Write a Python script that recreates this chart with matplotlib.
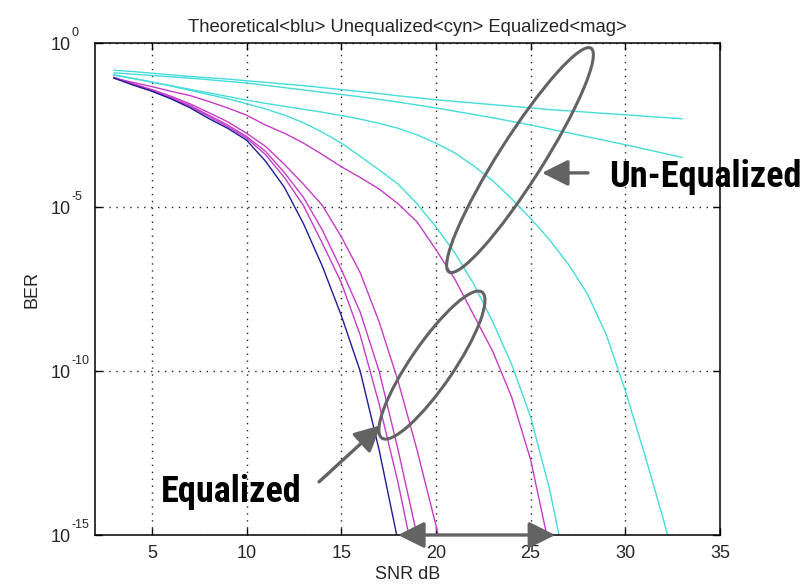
import numpy as np
import matplotlib
matplotlib.use("Agg")
import matplotlib.pyplot as plt
from matplotlib import font_manager
from matplotlib.patches import Ellipse
from matplotlib.ticker import NullLocator, NullFormatter
from matplotlib.transforms import IdentityTransform, blended_transform_factory, offset_copy

plt.rcParams['font.family'] = ['Liberation Sans', 'DejaVu Sans']

snr_db = np.arange(3, 34)

# log10(BER) at each dB step, every curve runs until it drops past 1e-15
theory = [-1.07, -1.28, -1.47, -1.70, -1.97, -2.30, -2.60, -2.96, -3.60, -4.40,
          -5.50, -6.80, -8.30, -10.0, -12.4, -15.2]

eq_1 = [-1.07, -1.20, -1.33, -1.47, -1.60, -1.78, -1.98, -2.20, -2.50, -2.75,
        -3.05, -3.40, -3.77, -4.10, -4.45, -4.90, -5.45, -6.30, -7.20, -8.30,
        -9.40, -10.8, -12.7, -15.4]
eq_2 = [-1.06, -1.27, -1.46, -1.68, -1.93, -2.24, -2.55, -2.90, -3.40, -4.10,
        -4.95, -6.10, -7.30, -8.90, -11.0, -13.4, -16.2]
eq_3 = [-1.05, -1.25, -1.44, -1.66, -1.90, -2.20, -2.50, -2.85, -3.30, -3.95,
        -4.70, -5.70, -6.90, -8.20, -10.0, -12.4, -15.0, -17.8]
eq_4 = [-1.05, -1.24, -1.42, -1.62, -1.85, -2.12, -2.40, -2.75, -3.15, -3.70,
        -4.30, -4.95, -5.90, -7.00, -8.50, -10.3, -12.4, -14.7, -17.3]

uneq_1 = [-0.83, -0.87, -0.92, -0.97, -1.02, -1.06, -1.10, -1.15, -1.20, -1.25,
          -1.30, -1.36, -1.42, -1.48, -1.54, -1.61, -1.67, -1.73, -1.78, -1.83,
          -1.88, -1.93, -1.98, -2.03, -2.07, -2.11, -2.15, -2.19, -2.23, -2.27,
          -2.31]
uneq_2 = [-0.91, -0.95, -0.99, -1.03, -1.07, -1.12, -1.17, -1.22, -1.29, -1.36,
          -1.43, -1.50, -1.57, -1.64, -1.72, -1.80, -1.89, -1.98, -2.08, -2.18,
          -2.28, -2.39, -2.50, -2.62, -2.74, -2.86, -2.98, -3.10, -3.23, -3.36,
          -3.49]
uneq_3 = [-0.97, -1.08, -1.19, -1.30, -1.41, -1.52, -1.63, -1.74, -1.84, -1.93,
          -2.02, -2.11, -2.21, -2.32, -2.45, -2.60, -2.80, -3.05, -3.35, -3.75,
          -4.20, -4.75, -5.35, -6.00, -6.75, -7.65, -8.90, -10.6, -12.5, -14.5,
          -16.7]
uneq_4 = [-0.98, -1.08, -1.19, -1.31, -1.44, -1.57, -1.70, -1.85, -2.01, -2.20,
          -2.43, -2.72, -3.05, -3.45, -3.87, -4.30, -4.90, -5.60, -6.40, -7.35,
          -8.50, -9.80, -11.4, -13.6, -16.4]

x_ticks = [5, 10, 15, 20, 25, 30, 35]
y_exponents = [0, -5, -10, -15]

CYAN = '#45dcdc'
MAGENTA = '#c63cc8'
BLUE = '#1e1e98'
GRAY = '#636363'
TEXT = '#262626'

# pick a narrow bold face for the callouts if one is installed
installed = {f.name for f in font_manager.fontManager.ttflist}
narrow = [n for n in ['Liberation Sans Narrow', 'Arial Narrow', 'Roboto Condensed',
                      'Open Sans Condensed', 'Nimbus Sans Narrow'] if n in installed]
BOLD_FONT = narrow[:1] + ['Liberation Sans', 'DejaVu Sans']


def ber(vals):
    return 10.0 ** np.asarray(vals)


fig = plt.figure(figsize=(8.06, 5.84), dpi=100)
ax = fig.add_axes([95 / 806, 49 / 584, 625 / 806, 492 / 584])

for vals in [uneq_1, uneq_2, uneq_3, uneq_4]:
    ax.plot(snr_db[:len(vals)], ber(vals), color=CYAN, lw=1.0)
for vals in [eq_1, eq_2, eq_3, eq_4]:
    ax.plot(snr_db[:len(vals)], ber(vals), color=MAGENTA, lw=1.0)
ax.plot(snr_db[:len(theory)], ber(theory), color=BLUE, lw=1.0)

ax.set_yscale('log')
ax.set_xlim(2, 35)
ax.set_ylim(1e-15, 1)
ax.set_xticks(x_ticks)
ax.set_yticks([10.0 ** e for e in y_exponents])
ax.yaxis.set_minor_locator(NullLocator())
ax.yaxis.set_major_formatter(NullFormatter())
ax.grid(True, color='#222222', linestyle=(0, (1, 4)), linewidth=1.0)
ax.tick_params(direction='in', top=True, right=True, length=5, width=1,
               labelsize=13, labelcolor=TEXT, pad=7)
for s in ax.spines.values():
    s.set_linewidth(1.1)

# matlab style 10^n labels: base right aligned, exponent hanging after it
ylab = blended_transform_factory(ax.transAxes, ax.transData)
for e in y_exponents:
    ax.text(0, 10.0 ** e, '10', transform=offset_copy(ylab, fig, x=-24, y=-2, units='dots'),
            ha='right', va='center', fontsize=13, color=TEXT)
    ax.text(0, 10.0 ** e, str(e), transform=offset_copy(ylab, fig, x=-23, y=4, units='dots'),
            ha='left', va='bottom', fontsize=9, color=TEXT)

ax.set_title('Theoretical<blu> Unequalized<cyn> Equalized<mag>', fontsize=13.3,
             pad=8, color=TEXT)
ax.set_xlabel('SNR dB', fontsize=13, labelpad=3, color=TEXT)
ax.set_ylabel('BER', fontsize=13, color=TEXT)
ax.yaxis.set_label_coords(-0.088, 0.5)


def ring(snr, log_ber, length, thickness, angle):
    cx, cy = ax.transData.transform((snr, 10.0 ** log_ber))
    fig.add_artist(Ellipse((cx, cy), length, thickness, angle=angle,
                           transform=IdentityTransform(), fill=False,
                           ec=GRAY, lw=2.2, zorder=5))


ring(24.44, -3.57, 265, 44, 57.6)
ring(19.79, -9.82, 177, 43, 55.6)

head = dict(mutation_scale=1, color=GRAY, lw=2.4, shrinkA=0, shrinkB=0)
ax.annotate('', xy=(25.6, 10 ** -3.96), xytext=(28.03, 10 ** -3.96),
            arrowprops=dict(arrowstyle='-|>,head_length=16,head_width=8', **head),
            annotation_clip=False)
ax.annotate('', xy=(17.1, 10 ** -11.65), xytext=(13.83, 10 ** -13.38),
            arrowprops=dict(arrowstyle='-|>,head_length=16,head_width=8', **head),
            annotation_clip=False)
ax.annotate('', xy=(26.3, 1e-15), xytext=(18.0, 1e-15),
            arrowprops=dict(arrowstyle='<|-|>,head_length=16,head_width=8', **head),
            annotation_clip=False)

callouts = [
    (29.14, -4.39, 'Un-Equalized', 193),
    (5.48, -13.99, 'Equalized', 141),
]
fig.canvas.draw()
renderer = fig.canvas.get_renderer()
for snr, log_ber, label, width_px in callouts:
    t = ax.text(snr, 10 ** log_ber, label, fontsize=27, fontweight='bold',
                family=BOLD_FONT, ha='left', va='baseline', clip_on=False, zorder=6)
    # shrink a wide fallback face so the label keeps its footprint
    w = t.get_window_extent(renderer).width
    if w > width_px:
        t.set_fontsize(27 * width_px / w)

fig.savefig('out.png', dpi=100)
